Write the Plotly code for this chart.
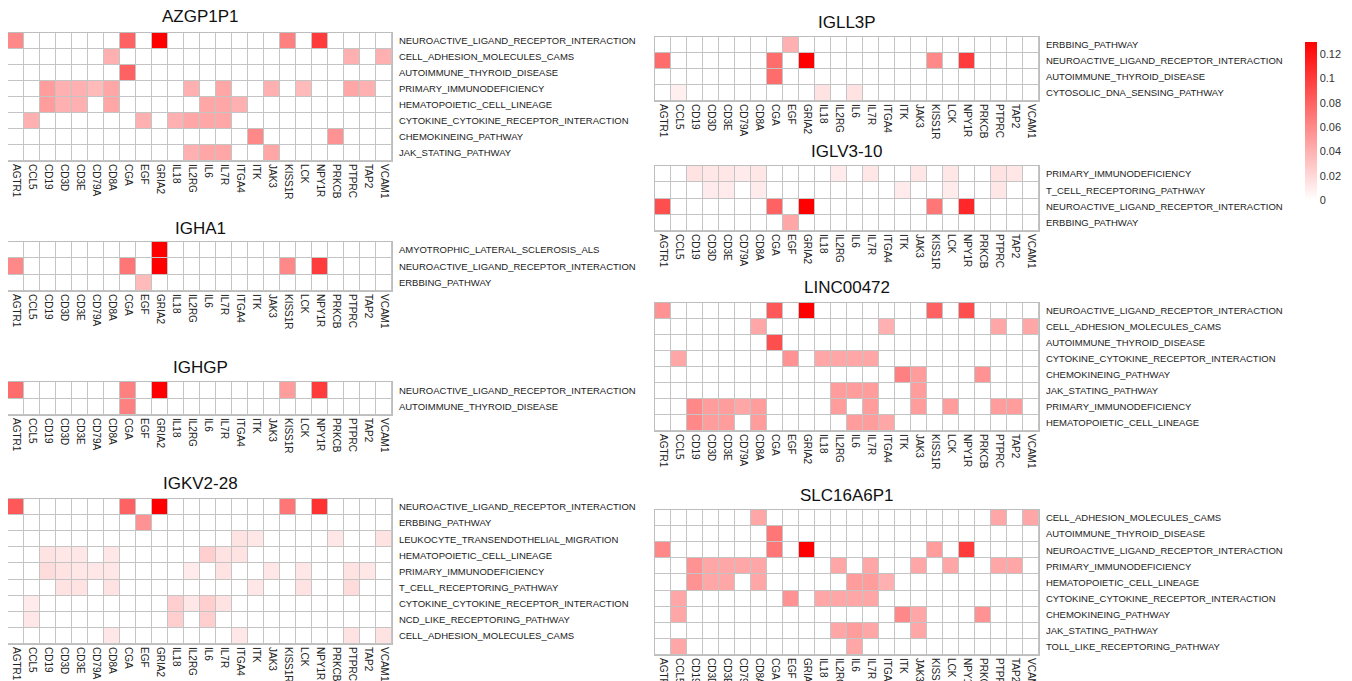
import plotly.graph_objects as go

genes = ["AGTR1", "CCL5", "CD19", "CD3D", "CD3E", "CD79A", "CD8A", "CGA", "EGF", "GRIA2",
         "IL18", "IL2RG", "IL6", "IL7R", "ITGA4", "ITK", "JAK3", "KISS1R", "LCK", "NPY1R",
         "PRKCB", "PTPRC", "TAP2", "VCAM1"]

# ---------------- AZGP1P1 ----------------
azgp1p1_rows = ["NEUROACTIVE_LIGAND_RECEPTOR_INTERACTION", "CELL_ADHESION_MOLECULES_CAMS",
                "AUTOIMMUNE_THYROID_DISEASE", "PRIMARY_IMMUNODEFICIENCY", "HEMATOPOIETIC_CELL_LINEAGE",
                "CYTOKINE_CYTOKINE_RECEPTOR_INTERACTION", "CHEMOKINEING_PATHWAY", "JAK_STATING_PATHWAY"]
azgp1p1_z = [
    [.06, 0, 0, 0, 0, 0, 0, .08, 0, .13, 0, 0, 0, 0, 0, 0, 0, .065, 0, .1, 0, 0, 0, 0],
    [0, 0, 0, 0, 0, 0, .04, 0, 0, 0, 0, 0, 0, 0, 0, 0, 0, 0, 0, 0, 0, .04, 0, .04],
    [0, 0, 0, 0, 0, 0, 0, .08, 0, 0, 0, 0, 0, 0, 0, 0, 0, 0, 0, 0, 0, 0, 0, 0],
    [0, 0, .05, .04, .04, .035, .045, 0, 0, 0, 0, .04, 0, .045, 0, 0, .04, 0, .035, 0, 0, .045, .04, 0],
    [0, 0, .05, .04, .04, 0, .045, 0, 0, 0, 0, 0, .045, .045, .04, 0, 0, 0, 0, 0, 0, 0, 0, 0],
    [0, .04, 0, 0, 0, 0, 0, 0, .04, 0, .04, .045, .045, .045, 0, 0, 0, 0, 0, 0, 0, 0, 0, 0],
    [0, 0, 0, 0, 0, 0, 0, 0, 0, 0, 0, 0, 0, 0, 0, .06, 0, 0, 0, 0, .055, 0, 0, 0],
    [0, 0, 0, 0, 0, 0, 0, 0, 0, 0, 0, .04, .045, .045, 0, 0, .045, 0, 0, 0, 0, 0, 0, 0],
]

# ---------------- IGHA1 ----------------
igha1_rows = ["AMYOTROPHIC_LATERAL_SCLEROSIS_ALS", "NEUROACTIVE_LIGAND_RECEPTOR_INTERACTION", "ERBBING_PATHWAY"]
igha1_z = [
    [0, 0, 0, 0, 0, 0, 0, 0, 0, .13, 0, 0, 0, 0, 0, 0, 0, 0, 0, 0, 0, 0, 0, 0],
    [.06, 0, 0, 0, 0, 0, 0, .07, 0, .13, 0, 0, 0, 0, 0, 0, 0, .06, 0, .1, 0, 0, 0, 0],
    [0, 0, 0, 0, 0, 0, 0, 0, .035, 0, 0, 0, 0, 0, 0, 0, 0, 0, 0, 0, 0, 0, 0, 0],
]

# ---------------- IGHGP ----------------
ighgp_rows = ["NEUROACTIVE_LIGAND_RECEPTOR_INTERACTION", "AUTOIMMUNE_THYROID_DISEASE"]
ighgp_z = [
    [.075, 0, 0, 0, 0, 0, 0, .065, 0, .13, 0, 0, 0, 0, 0, 0, 0, .05, 0, .1, 0, 0, 0, 0],
    [0, 0, 0, 0, 0, 0, 0, .065, 0, 0, 0, 0, 0, 0, 0, 0, 0, 0, 0, 0, 0, 0, 0, 0],
]

# ---------------- IGKV2-28 ----------------
igkv228_rows = ["NEUROACTIVE_LIGAND_RECEPTOR_INTERACTION", "ERBBING_PATHWAY",
                "LEUKOCYTE_TRANSENDOTHELIAL_MIGRATION", "HEMATOPOIETIC_CELL_LINEAGE",
                "PRIMARY_IMMUNODEFICIENCY", "T_CELL_RECEPTORING_PATHWAY",
                "CYTOKINE_CYTOKINE_RECEPTOR_INTERACTION", "NCD_LIKE_RECEPTORING_PATHWAY",
                "CELL_ADHESION_MOLECULES_CAMS"]
igkv228_z = [
    [.085, 0, 0, 0, 0, 0, 0, .08, 0, .13, 0, 0, 0, 0, 0, 0, 0, .07, 0, .105, 0, 0, 0, 0],
    [0, 0, 0, 0, 0, 0, 0, 0, .055, 0, 0, 0, 0, 0, 0, 0, 0, 0, 0, 0, 0, 0, 0, 0],
    [0, 0, 0, 0, 0, 0, 0, 0, 0, 0, 0, 0, 0, 0, .015, .012, 0, 0, 0, 0, .012, 0, 0, .015],
    [0, 0, .015, .012, .012, 0, .012, 0, 0, 0, 0, 0, .025, .015, .015, 0, 0, 0, 0, 0, 0, 0, 0, 0],
    [0, 0, .018, .015, .012, .012, .012, 0, 0, 0, 0, .01, 0, .015, 0, 0, .012, 0, .012, 0, 0, .015, .012, 0],
    [0, 0, 0, .015, .015, 0, .015, 0, 0, 0, 0, 0, 0, 0, 0, .012, 0, 0, .015, 0, 0, .018, 0, 0],
    [0, .01, 0, 0, 0, 0, 0, 0, 0, 0, .025, .012, .025, .015, 0, 0, 0, 0, 0, 0, 0, 0, 0, 0],
    [0, .012, 0, 0, 0, 0, 0, 0, 0, 0, .025, 0, .025, 0, 0, 0, 0, 0, 0, 0, 0, 0, 0, 0],
    [0, 0, 0, 0, 0, 0, .012, 0, 0, 0, 0, 0, 0, 0, .012, 0, 0, 0, 0, 0, 0, .015, 0, .015],
]

# ---------------- IGLL3P ----------------
igll3p_rows = ["ERBBING_PATHWAY", "NEUROACTIVE_LIGAND_RECEPTOR_INTERACTION",
               "AUTOIMMUNE_THYROID_DISEASE", "CYTOSOLIC_DNA_SENSING_PATHWAY"]
igll3p_z = [
    [0, 0, 0, 0, 0, 0, 0, 0, .04, 0, 0, 0, 0, 0, 0, 0, 0, 0, 0, 0, 0, 0, 0, 0],
    [.075, 0, 0, 0, 0, 0, 0, .075, 0, .13, 0, 0, 0, 0, 0, 0, 0, .06, 0, .1, 0, 0, 0, 0],
    [0, 0, 0, 0, 0, 0, 0, .075, 0, 0, 0, 0, 0, 0, 0, 0, 0, 0, 0, 0, 0, 0, 0, 0],
    [0, .008, 0, 0, 0, 0, 0, 0, 0, 0, .015, 0, .015, 0, 0, 0, 0, 0, 0, 0, 0, 0, 0, 0],
]

# ---------------- IGLV3-10 ----------------
iglv310_rows = ["PRIMARY_IMMUNODEFICIENCY", "T_CELL_RECEPTORING_PATHWAY",
                "NEUROACTIVE_LIGAND_RECEPTOR_INTERACTION", "ERBBING_PATHWAY"]
iglv310_z = [
    [0, 0, .015, .012, .012, .01, .012, 0, 0, 0, 0, .01, 0, .012, 0, 0, .012, 0, .012, 0, 0, .015, .012, 0],
    [0, 0, 0, .01, .01, 0, .01, 0, 0, 0, 0, 0, 0, 0, 0, .01, 0, 0, .01, 0, 0, .012, 0, 0],
    [.09, 0, 0, 0, 0, 0, 0, .08, 0, .13, 0, 0, 0, 0, 0, 0, 0, .07, 0, .11, 0, 0, 0, 0],
    [0, 0, 0, 0, 0, 0, 0, 0, .045, 0, 0, 0, 0, 0, 0, 0, 0, 0, 0, 0, 0, 0, 0, 0],
]

# ---------------- LINC00472 ----------------
linc00472_rows = ["NEUROACTIVE_LIGAND_RECEPTOR_INTERACTION", "CELL_ADHESION_MOLECULES_CAMS",
                  "AUTOIMMUNE_THYROID_DISEASE", "CYTOKINE_CYTOKINE_RECEPTOR_INTERACTION",
                  "CHEMOKINEING_PATHWAY", "JAK_STATING_PATHWAY", "PRIMARY_IMMUNODEFICIENCY",
                  "HEMATOPOIETIC_CELL_LINEAGE"]
linc00472_z = [
    [.055, 0, 0, 0, 0, 0, 0, .085, 0, .13, 0, 0, 0, 0, 0, 0, 0, .08, 0, .09, 0, 0, 0, 0],
    [0, 0, 0, 0, 0, 0, .045, 0, 0, 0, 0, 0, 0, 0, .04, 0, 0, 0, 0, 0, 0, .045, 0, .045],
    [0, 0, 0, 0, 0, 0, 0, .09, 0, 0, 0, 0, 0, 0, 0, 0, 0, 0, 0, 0, 0, 0, 0, 0],
    [0, .045, 0, 0, 0, 0, 0, 0, .055, 0, .045, .045, .045, .045, 0, 0, 0, 0, 0, 0, 0, 0, 0, 0],
    [0, 0, 0, 0, 0, 0, 0, 0, 0, 0, 0, 0, 0, 0, 0, .065, .05, 0, 0, 0, .055, 0, 0, 0],
    [0, 0, 0, 0, 0, 0, 0, 0, 0, 0, 0, .05, .05, .05, 0, 0, .05, 0, 0, 0, 0, 0, 0, 0],
    [0, 0, .06, .05, .05, .045, .05, 0, 0, 0, 0, .05, 0, .05, 0, 0, .05, 0, .05, 0, 0, .05, .05, 0],
    [0, 0, .06, .05, .05, 0, .05, 0, 0, 0, 0, 0, .05, .05, .045, 0, 0, 0, 0, 0, 0, 0, 0, 0],
]

# ---------------- SLC16A6P1 ----------------
slc16a6p1_rows = ["CELL_ADHESION_MOLECULES_CAMS", "AUTOIMMUNE_THYROID_DISEASE",
                  "NEUROACTIVE_LIGAND_RECEPTOR_INTERACTION", "PRIMARY_IMMUNODEFICIENCY",
                  "HEMATOPOIETIC_CELL_LINEAGE", "CYTOKINE_CYTOKINE_RECEPTOR_INTERACTION",
                  "CHEMOKINEING_PATHWAY", "JAK_STATING_PATHWAY", "TOLL_LIKE_RECEPTORING_PATHWAY"]
slc16a6p1_z = [
    [0, 0, 0, 0, 0, 0, .045, 0, 0, 0, 0, 0, 0, 0, 0, 0, 0, 0, 0, 0, 0, .045, 0, .045],
    [0, 0, 0, 0, 0, 0, 0, .07, 0, 0, 0, 0, 0, 0, 0, 0, 0, 0, 0, 0, 0, 0, 0, 0],
    [.06, 0, 0, 0, 0, 0, 0, .07, 0, .13, 0, 0, 0, 0, 0, 0, 0, .05, 0, .1, 0, 0, 0, 0],
    [0, 0, .055, .045, .045, .045, .045, 0, 0, 0, 0, .045, 0, .045, 0, 0, .045, 0, .045, 0, 0, .045, .045, 0],
    [0, 0, .055, .045, .045, 0, .045, 0, 0, 0, 0, 0, .05, .05, .04, 0, 0, 0, 0, 0, 0, 0, 0, 0],
    [0, .045, 0, 0, 0, 0, 0, 0, .055, 0, .045, .045, .045, .045, 0, 0, 0, 0, 0, 0, 0, 0, 0, 0],
    [0, .045, 0, 0, 0, 0, 0, 0, 0, 0, 0, 0, 0, 0, 0, .06, .045, 0, 0, 0, .055, 0, 0, 0],
    [0, 0, 0, 0, 0, 0, 0, 0, 0, 0, 0, .045, .05, .045, 0, 0, .045, 0, 0, 0, 0, 0, 0, 0],
    [0, .045, 0, 0, 0, 0, 0, 0, 0, 0, 0, 0, .045, 0, 0, 0, 0, 0, 0, 0, 0, 0, 0, 0],
]

W, H = 1352, 681
OFF = 8  # page body margin offset of the rendered figure
# (title, rows, z, x_left_px, title_y_px, top_px, bottom_px) in window pixels
panels = [
    ("AZGP1P1", azgp1p1_rows, azgp1p1_z, 8, 17, 33, 161),
    ("IGHA1", igha1_rows, igha1_z, 8, 228, 242, 291),
    ("IGHGP", ighgp_rows, ighgp_z, 8, 367, 382, 415),
    ("IGKV2-28", igkv228_rows, igkv228_z, 8, 483, 499, 644),
    ("IGLL3P", igll3p_rows, igll3p_z, 655, 22, 37, 101),
    ("IGLV3-10", iglv310_rows, iglv310_z, 655, 152, 166, 231),
    ("LINC00472", linc00472_rows, linc00472_z, 655, 287, 303, 431),
    ("SLC16A6P1", slc16a6p1_rows, slc16a6p1_z, 655, 495, 510, 655),
]


def px_x(p):
    return min(1.0, max(0.0, (p - OFF) / W))


def px_y(p):
    return min(1.0, max(0.0, 1 - (p - OFF) / H))


FONT = "Liberation Sans, Arial, sans-serif"
fig = go.Figure()
layout = dict(width=W, height=H, autosize=False,
              margin=dict(l=0, r=0, t=0, b=0, pad=0, autoexpand=False),
              paper_bgcolor="white", plot_bgcolor="#C4C4C4", showlegend=False,
              font=dict(family=FONT, color="#222"),
              coloraxis=dict(cmin=0, cmax=0.13,
                             colorscale=[[0, "#FFFFFF"], [1, "#FF0000"]],
                             colorbar=dict(x=px_x(1305), xanchor="left", y=px_y(42), yanchor="top",
                                           len=158 / H, lenmode="fraction", thickness=12,
                                           xpad=0, ypad=0,
                                           outlinewidth=0, tickvals=[0, .02, .04, .06, .08, .1, .12],
                                           ticktext=["0", "0.02", "0.04", "0.06", "0.08", "0.1", "0.12"],
                                           ticks="", tickfont=dict(size=11, color="#333", family=FONT))),
              annotations=[])

cell = 16
for i, (title, rows, z, xl, ty, top, bot) in enumerate(panels):
    k = "" if i == 0 else str(i + 1)
    xa, ya = "x" + k, "y" + k
    fig.add_trace(go.Heatmap(z=z, x=genes, y=rows, coloraxis="coloraxis",
                             xgap=1, ygap=1, xaxis=xa, yaxis=ya,
                             hovertemplate="%{y}<br>%{x}: %{z}<extra></extra>"))
    xr = xl + cell * len(genes)
    layout["xaxis" + k] = dict(domain=[px_x(xl), px_x(xr)], anchor=ya, tickangle=90, ticks="",
                               tickfont=dict(size=10, color="#222"), showline=True, mirror=True,
                               linecolor="#BDBDBD", linewidth=1, showgrid=False, zeroline=False,
                               automargin=False, fixedrange=True)
    layout["yaxis" + k] = dict(domain=[px_y(bot), px_y(top)], anchor=xa, side="right",
                               autorange="reversed", ticks="", ticklabelstandoff=4,
                               tickfont=dict(size=9.5, color="#222"), showline=True, mirror=True,
                               linecolor="#BDBDBD", linewidth=1, showgrid=False, zeroline=False,
                               automargin=False, fixedrange=True)
    layout["annotations"].append(dict(text=title, x=px_x((xl + xr) / 2), y=px_y(ty),
                                      xref="paper", yref="paper", showarrow=False,
                                      xanchor="center", yanchor="middle",
                                      font=dict(size=17, color="#111", family=FONT)))

fig.update_layout(**layout)
fig.write_html("out.html")
